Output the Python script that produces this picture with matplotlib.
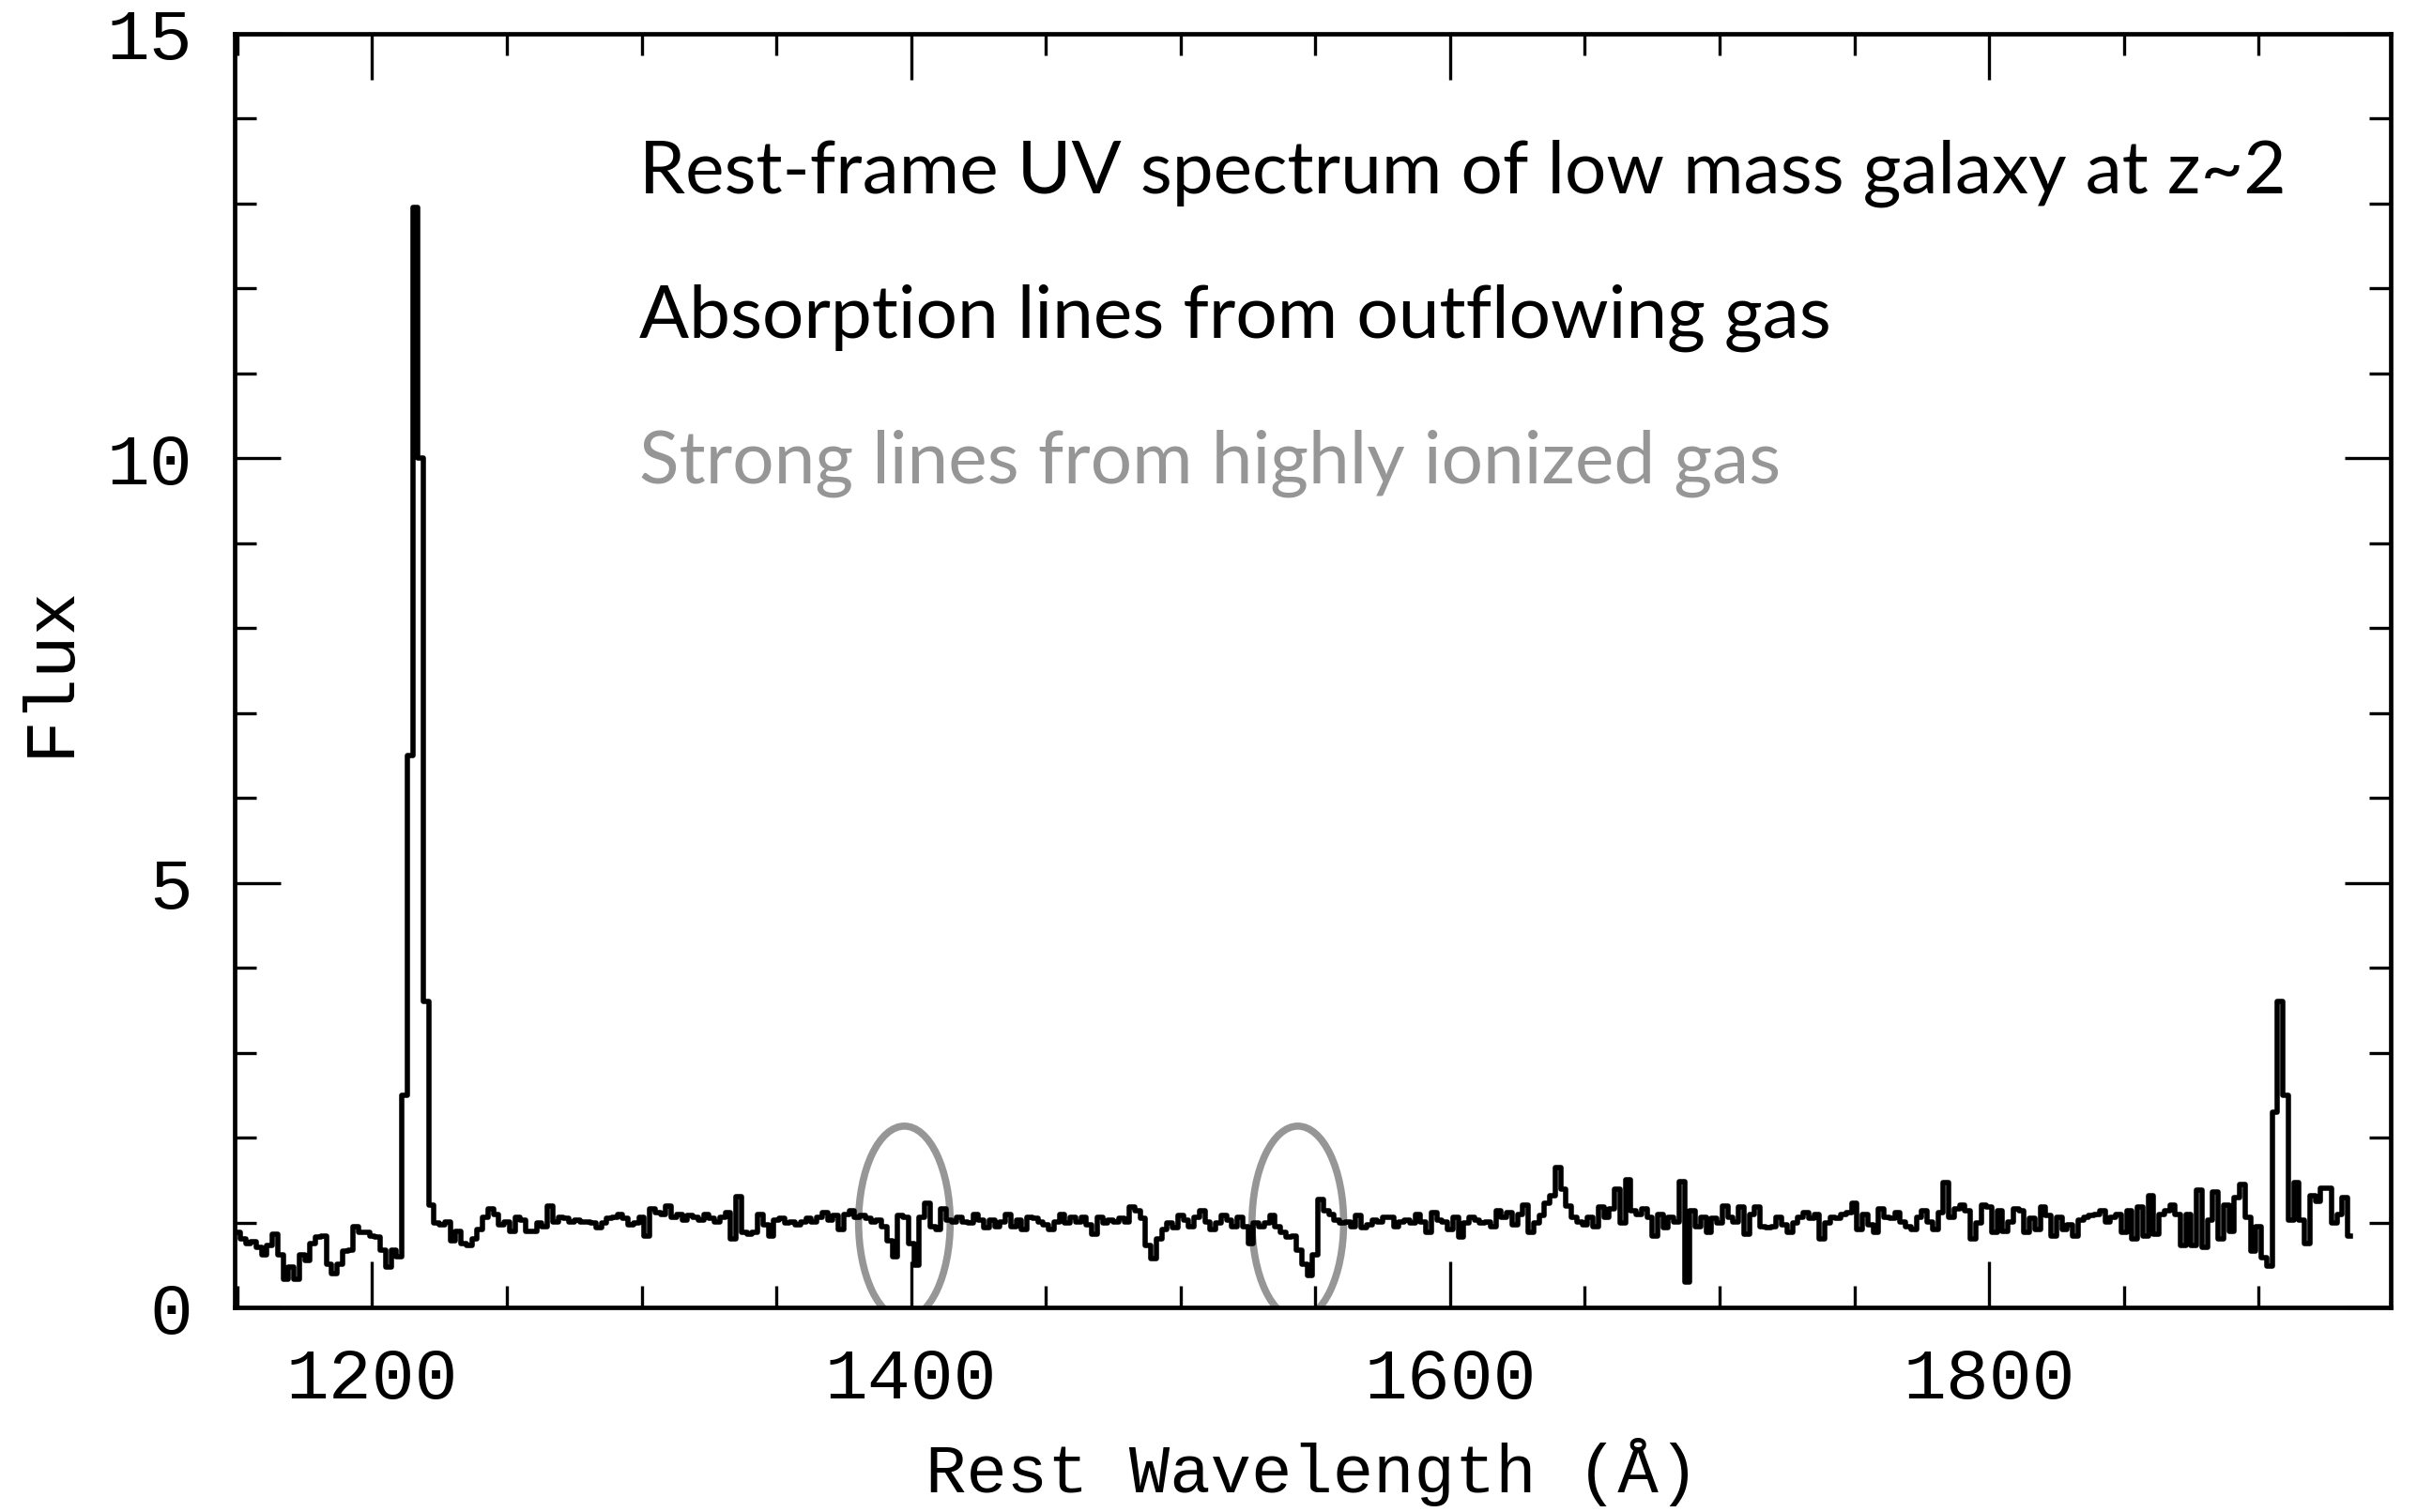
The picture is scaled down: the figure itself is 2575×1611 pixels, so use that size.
import numpy as np
import matplotlib
matplotlib.use("Agg")
import matplotlib.pyplot as plt
from matplotlib.patches import Ellipse
from matplotlib.ticker import MultipleLocator

# espectro: 2 A por pixel desde 1150 A
WAVE_START = 1150.0
WAVE_STEP = 2.0
flux = [
    0.88, 0.81, 0.75, 0.77, 0.71, 0.62, 0.73, 0.86, 0.62, 0.33,
    0.48, 0.33, 0.62, 0.55, 0.75, 0.83, 0.84, 0.51, 0.40, 0.51,
    0.66, 0.68, 0.95, 0.88, 0.88, 0.84, 0.83, 0.68, 0.48, 0.68,
    0.60, 2.50, 6.50, 12.95, 10.0, 3.60, 1.20, 0.99, 0.97, 1.01,
    0.79, 0.90, 0.75, 0.73, 0.81, 0.92, 1.06, 1.16, 1.10, 0.97,
    1.01, 0.90, 1.06, 1.03, 0.90, 0.90, 0.99, 0.95, 1.19, 1.01,
    1.06, 1.05, 1.01, 1.03, 1.01, 1.01, 0.99, 0.94, 0.99, 1.05,
    1.06, 1.10, 1.05, 0.97, 0.99, 1.06, 0.84, 1.16, 1.12, 1.10,
    1.19, 1.06, 1.10, 1.03, 1.08, 1.06, 1.03, 1.10, 1.05, 1.01,
    1.06, 1.12, 0.81, 1.30, 0.88, 0.86, 0.88, 1.10, 0.97, 0.84,
    1.03, 1.05, 0.99, 1.01, 0.97, 1.01, 1.05, 1.01, 1.06, 1.12,
    1.03, 1.08, 0.92, 1.10, 1.14, 1.06, 1.08, 1.05, 1.01, 1.03,
    0.95, 0.78, 0.60, 1.08, 1.06, 0.75, 0.50, 1.06, 1.23, 0.95,
    0.92, 1.16, 1.03, 1.01, 1.06, 1.01, 0.99, 1.10, 1.03, 0.94,
    1.03, 0.95, 1.01, 1.10, 0.95, 1.03, 0.92, 1.06, 1.05, 1.01,
    0.97, 0.92, 1.01, 1.10, 0.99, 1.06, 1.01, 1.06, 0.97, 0.86,
    1.06, 0.99, 1.03, 1.01, 1.05, 1.01, 1.18, 1.14, 1.05, 0.73,
    0.57, 0.81, 0.92, 0.99, 0.94, 1.08, 1.03, 0.95, 1.06, 1.14,
    1.01, 0.92, 0.99, 1.08, 1.03, 0.95, 1.06, 0.95, 0.75, 0.99,
    0.95, 0.99, 1.08, 0.95, 0.88, 0.83, 0.84, 0.68, 0.51, 0.38,
    0.62, 1.27, 1.14, 1.10, 1.03, 0.99, 1.01, 0.95, 1.08, 0.94,
    0.97, 1.03, 1.01, 1.06, 1.06, 0.95, 1.01, 1.03, 0.99, 1.10,
    1.01, 0.88, 1.12, 1.03, 1.01, 0.92, 1.06, 0.83, 0.99, 1.06,
    1.03, 0.99, 1.01, 0.95, 1.14, 1.06, 1.12, 0.97, 1.10, 1.21,
    0.88, 0.99, 1.08, 1.23, 1.32, 1.65, 1.39, 1.19, 1.06, 1.01,
    0.97, 1.06, 0.95, 1.18, 1.06, 1.16, 1.39, 0.99, 1.50, 1.14,
    1.10, 1.16, 1.06, 0.84, 1.10, 0.94, 1.06, 1.01, 1.48, 0.30,
    1.14, 0.95, 1.06, 0.88, 1.05, 0.99, 1.19, 1.06, 1.01, 1.18,
    0.86, 1.10, 1.18, 0.95, 0.94, 0.95, 1.06, 0.97, 0.88, 0.99,
    1.06, 1.12, 1.05, 1.10, 0.81, 0.99, 1.06, 1.05, 1.10, 1.12,
    1.23, 0.92, 1.10, 0.97, 0.88, 1.16, 1.06, 1.05, 1.12, 1.01,
    0.95, 0.92, 1.06, 1.14, 1.01, 0.92, 1.12, 1.47, 1.06, 1.16,
    1.21, 1.14, 0.81, 0.99, 1.21, 1.18, 0.88, 1.14, 0.90, 1.01,
    1.16, 1.14, 0.88, 1.05, 0.92, 1.18, 1.08, 0.84, 1.06, 0.92,
    0.97, 0.84, 1.03, 1.06, 1.08, 1.10, 1.14, 1.01, 1.06, 1.10,
    0.88, 1.14, 0.81, 1.18, 0.84, 1.32, 0.86, 1.10, 1.14, 1.21,
    1.10, 0.73, 1.10, 0.73, 1.38, 0.71, 1.03, 1.36, 0.81, 1.21,
    0.90, 1.29, 1.45, 1.06, 0.66, 0.95, 0.59, 0.49, 2.30, 3.60,
    2.50, 1.03, 1.47, 1.03, 0.75, 1.32, 1.25, 1.40, 1.40, 0.99,
    1.10, 1.29, 0.84,
]
wave = WAVE_START + WAVE_STEP * np.arange(len(flux))

# lineas de alta ionizacion (Si IV, C IV) marcadas con elipses
lineas_centro = [1397.5, 1543.5]
lineas_flux = [1.0, 1.0]

textos = [
    "Rest-frame UV spectrum of low mass galaxy at z~2",
    "Absorption lines from outflowing gas",
    "Strong lines from highly ionized gas",
]
textos_y = [13.13, 11.42, 9.71]
GRIS = "#969696"
textos_color = ["black", "black", GRIS]

fig = plt.figure(figsize=(25.75, 16.11), dpi=100)
ax = fig.add_axes([0.0971, 0.1353, 0.892, 0.8424])

ax.plot(wave, flux, drawstyle="steps-mid", color="black", lw=4.0)

for xc, yc in zip(lineas_centro, lineas_flux):
    ax.add_patch(Ellipse((xc, yc), width=34, height=2.27, fill=False,
                         edgecolor=GRIS, lw=5.5))

for t, y, c in zip(textos, textos_y, textos_color):
    ax.text(1299, y, t, color=c, fontsize=56.5, family="Lato",
            fontweight="normal", va="baseline", ha="left")

ax.set_xlim(1149, 1949)
ax.set_ylim(0, 15)
ax.xaxis.set_major_locator(MultipleLocator(200))
ax.xaxis.set_minor_locator(MultipleLocator(50))
ax.yaxis.set_major_locator(MultipleLocator(5))
ax.yaxis.set_minor_locator(MultipleLocator(1))

ax.tick_params(which="both", direction="in", top=True, right=True, width=2.4,
               labelsize=55, colors="black")
ax.tick_params(which="major", length=35)
ax.tick_params(which="minor", length=16.5)
ax.tick_params(axis="x", which="major", pad=30)
ax.tick_params(axis="y", which="major", pad=32)
for lab in ax.get_xticklabels() + ax.get_yticklabels():
    lab.set_family("Liberation Mono")

for s in ax.spines.values():
    s.set_linewidth(3.4)

ax.set_xlabel("Rest Wavelength (Å)", fontsize=52, family="Liberation Mono",
              va="center")
ax.xaxis.set_label_coords(0.5, -0.129)
ax.set_ylabel("Flux", fontsize=55, family="Liberation Mono",
              va="center", ha="center")
ax.yaxis.set_label_coords(-0.0858, 0.5)

fig.savefig("out.png", dpi=100)
